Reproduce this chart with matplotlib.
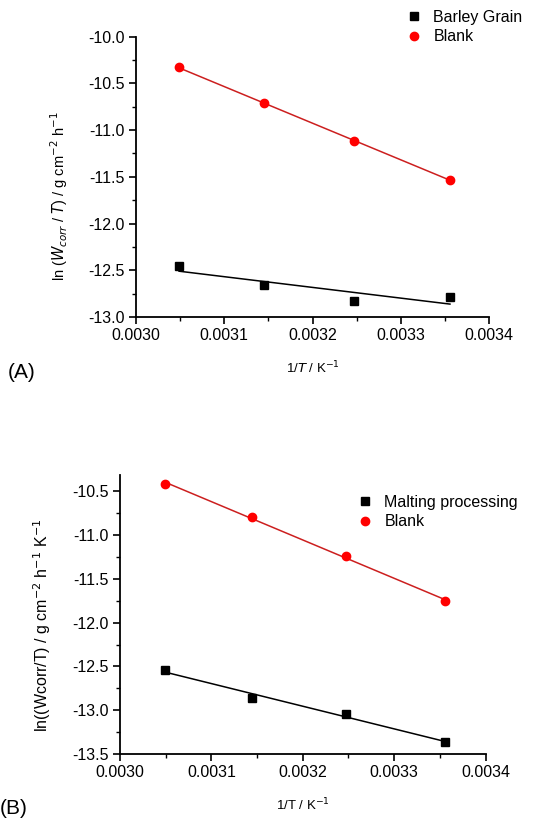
import matplotlib.pyplot as plt
import numpy as np
from matplotlib.ticker import MultipleLocator, FormatStrFormatter

plt.rcParams['font.family'] = ['Liberation Sans', 'DejaVu Sans']

# Données
inv_T = [1 / 328, 1 / 318, 1 / 308, 1 / 298]

a_blank = [-10.33, -10.71, -11.12, -11.53]
a_barley = [-12.45, -12.66, -12.83, -12.79]

b_blank = [-10.42, -10.80, -11.24, -11.76]
b_malting = [-12.54, -12.86, -13.04, -13.36]

RED_PT = '#ff0000'
RED_LN = '#cc1f1f'


def style_axes(ax, ylim, ymajor):
    ax.set_xlim(0.0030, 0.0034)
    ax.set_ylim(*ylim)
    ax.xaxis.set_major_locator(MultipleLocator(0.0001))
    ax.xaxis.set_minor_locator(MultipleLocator(0.00005))
    ax.yaxis.set_major_locator(MultipleLocator(ymajor))
    ax.yaxis.set_minor_locator(MultipleLocator(ymajor / 2))
    ax.xaxis.set_major_formatter(FormatStrFormatter('%.4f'))
    ax.yaxis.set_major_formatter(FormatStrFormatter('%.1f'))
    ax.spines['top'].set_visible(False)
    ax.spines['right'].set_visible(False)
    for s in ('left', 'bottom'):
        ax.spines[s].set_linewidth(1.3)
    ax.tick_params(which='major', direction='out', length=5, width=1.2,
                   labelsize=11.5, pad=3)
    ax.tick_params(which='minor', direction='out', length=3, width=1.0)


def draw_series(ax, x, y, marker, color, line_color, label):
    ax.plot(x, y, linestyle='none', marker=marker, color=color,
            markersize=6, label=label, zorder=3)
    k, b = np.polyfit(x, y, 1)
    xs = np.array([min(x), max(x)])
    ax.plot(xs, k * xs + b, color=line_color, lw=1.1, zorder=2)


fig = plt.figure(figsize=(5.44, 8.25), dpi=100)

# ---------------- (A) ----------------
axA = fig.add_axes([0.25, 0.6158, 0.649, 0.3398])
draw_series(axA, inv_T, a_barley, 's', 'black', 'black', 'Barley Grain')
draw_series(axA, inv_T, a_blank, 'o', RED_PT, RED_LN, 'Blank')
style_axes(axA, (-13.0, -10.0), 0.5)
axA.set_xlabel('1/$T$ / K$^{-1}$', fontsize=9.5, labelpad=12)
axA.set_ylabel('ln ($W_{corr}$ / $T$) / g cm$^{-2}$ h$^{-1}$', fontsize=10.5)
axA.yaxis.set_label_coords(-0.187, 0.43)
axA.legend(loc='upper left', bbox_to_anchor=(0.732, 1.0),
           bbox_transform=fig.transFigure, frameon=False, fontsize=11.5,
           handlelength=0.8, handletextpad=0.8, labelspacing=0.3,
           borderaxespad=0.2)
fig.text(0.015, 1 - 372 / 825, '(A)', fontsize=15, va='center')

# ---------------- (B) ----------------
axB = fig.add_axes([0.2206, 0.0857, 0.672, 0.3385])
draw_series(axB, inv_T, b_malting, 's', 'black', 'black', 'Malting processing')
draw_series(axB, inv_T, b_blank, 'o', RED_PT, RED_LN, 'Blank')
style_axes(axB, (-13.5, -10.32), 0.5)
axB.set_xlabel('1/T / K$^{-1}$', fontsize=9.5, labelpad=12)
axB.set_ylabel('ln((Wcorr/T) / g cm$^{-2}$ h$^{-1}$ K$^{-1}$', fontsize=11.5)
axB.yaxis.set_label_coords(-0.183, 0.463)
axB.legend(loc='upper left', bbox_to_anchor=(0.642, 1 - 485 / 825),
           bbox_transform=fig.transFigure, frameon=False, fontsize=11.5,
           handlelength=0.8, handletextpad=0.8, labelspacing=0.3,
           borderaxespad=0.2)
fig.text(0.0, 1 - 808 / 825, '(B)', fontsize=15, va='center')

plt.savefig('out.png', dpi=100, facecolor='white')
plt.close()
